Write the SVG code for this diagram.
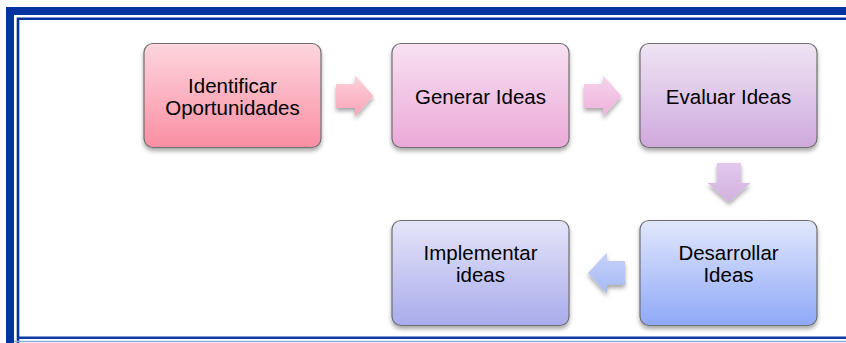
<svg xmlns="http://www.w3.org/2000/svg" width="846" height="343" viewBox="0 0 846 343">
<defs>
<linearGradient id="g1" x1="0" y1="0" x2="0" y2="1"><stop offset="0" stop-color="#fdd6dd"/><stop offset="1" stop-color="#fa8ea3"/></linearGradient>
<linearGradient id="g2" x1="0" y1="0" x2="0" y2="1"><stop offset="0" stop-color="#f8e1f1"/><stop offset="1" stop-color="#eba9d8"/></linearGradient>
<linearGradient id="g3" x1="0" y1="0" x2="0" y2="1"><stop offset="0" stop-color="#efe4f4"/><stop offset="1" stop-color="#cfa9dd"/></linearGradient>
<linearGradient id="g4" x1="0" y1="0" x2="0" y2="1"><stop offset="0" stop-color="#e2e7fc"/><stop offset="1" stop-color="#8ea9f7"/></linearGradient>
<linearGradient id="g5" x1="0" y1="0" x2="0" y2="1"><stop offset="0" stop-color="#e5e5f9"/><stop offset="1" stop-color="#a9acec"/></linearGradient>
<linearGradient id="a1" x1="0" y1="0" x2="0" y2="1"><stop offset="0" stop-color="#fcd0d9"/><stop offset="1" stop-color="#f9a6b8"/></linearGradient>
<linearGradient id="a2" x1="0" y1="0" x2="0" y2="1"><stop offset="0" stop-color="#f6d3ec"/><stop offset="1" stop-color="#eeb2dc"/></linearGradient>
<linearGradient id="a3" x1="0" y1="0" x2="0" y2="1"><stop offset="0" stop-color="#e3c8ec"/><stop offset="1" stop-color="#d2b1e0"/></linearGradient>
<linearGradient id="a4" x1="0" y1="0" x2="0" y2="1"><stop offset="0" stop-color="#c6d2f8"/><stop offset="1" stop-color="#a6b9f4"/></linearGradient>
<filter id="sh" x="-20%" y="-20%" width="140%" height="150%"><feDropShadow dx="0" dy="3" stdDeviation="2" flood-color="#000" flood-opacity="0.35"/></filter>
<style>
.box{stroke:#6f6f6f;stroke-width:1.2;filter:url(#sh)}
.arr{filter:url(#sh)}
.lbl{font-family:"Liberation Sans",Arial,sans-serif;font-size:20.5px;fill:#000;text-anchor:middle}
</style>
</defs>
<rect width="846" height="343" fill="#fff"/>
<g id="frame" fill="none">
<path d="M10,350 V11 H852" stroke="#0033a0" stroke-width="8"/>
<path d="M18,345 V18.7 H852" stroke="#0033a0" stroke-width="2.6"/>
<path d="M18,337.7 H852" stroke="#0d3ba8" stroke-width="2.6"/>
<path d="M14,341.5 H852" stroke="#8fa8e0" stroke-width="1.5"/>
</g>
<g id="connectors">
<path class="arr" fill="url(#a1)" d="M336,84 H355 V75.5 L373.5,96 L355,116.5 V108 H336 Z"/>
<path class="arr" fill="url(#a2)" d="M584,84 H603 V75.5 L621.5,96 L603,116.5 V108 H584 Z"/>
<path class="arr" fill="url(#a3)" d="M717,163 H741 V183 H750.5 L729,202 L707.5,183 H717 Z"/>
<path class="arr" fill="url(#a4)" d="M625,261 H607 V252.5 L588,273 L607,293.5 V285 H625 Z"/>
</g>
<g id="n1"><rect class="box" x="144" y="43.5" width="177" height="104" rx="9" fill="url(#g1)"/>
<text class="lbl" x="232.5" y="93">Identificar</text><text class="lbl" x="232.5" y="115">Oportunidades</text></g>
<g id="n2"><rect class="box" x="392" y="43.5" width="177" height="104" rx="9" fill="url(#g2)"/>
<text class="lbl" x="480.5" y="104">Generar Ideas</text></g>
<g id="n3"><rect class="box" x="640" y="43.5" width="177" height="104" rx="9" fill="url(#g3)"/>
<text class="lbl" x="728.5" y="104">Evaluar Ideas</text></g>
<g id="n4"><rect class="box" x="640" y="220.5" width="177" height="105" rx="9" fill="url(#g4)"/>
<text class="lbl" x="728.5" y="260">Desarrollar</text><text class="lbl" x="728.5" y="282">Ideas</text></g>
<g id="n5"><rect class="box" x="392" y="220.5" width="177" height="105" rx="9" fill="url(#g5)"/>
<text class="lbl" x="480.5" y="260">Implementar</text><text class="lbl" x="480.5" y="282">ideas</text></g>
</svg>
